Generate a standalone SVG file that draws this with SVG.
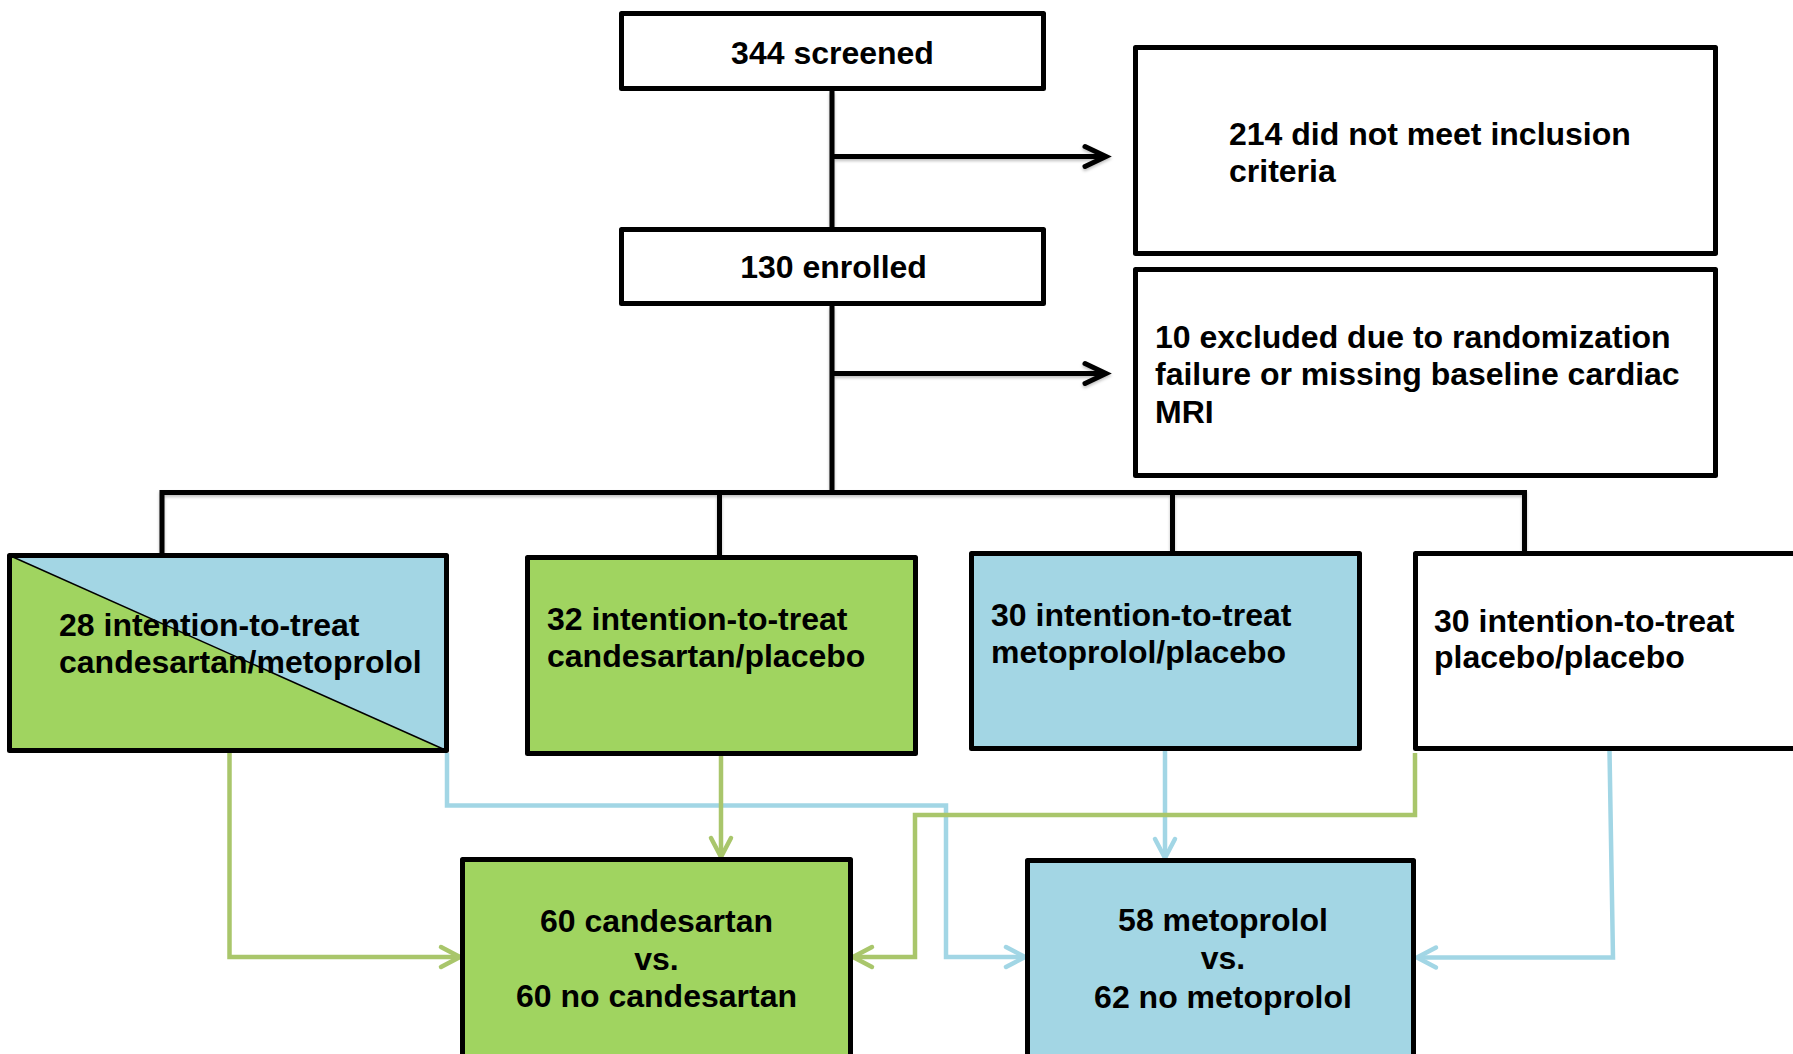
<svg xmlns="http://www.w3.org/2000/svg" width="1793" height="1054" viewBox="0 0 1793 1054">
<style>
.box{stroke:#000;stroke-width:5;stroke-linejoin:round}
.w{fill:#fff}
.g{fill:#A0D460}
.b{fill:#A3D6E4}
.t{font-family:"Liberation Sans",Arial,sans-serif;font-weight:bold;font-size:32px;fill:#000}
.c{text-anchor:middle}
.k{fill:none;stroke:#000;stroke-width:5;stroke-linejoin:miter}
.lg{fill:none;stroke:#A9C66B;stroke-width:4.5}
.lb{fill:none;stroke:#A2D6E5;stroke-width:4.5}
</style>
<defs>
<filter id="sh" x="-5%" y="-5%" width="110%" height="120%">
<feDropShadow dx="0" dy="2" stdDeviation="1.5" flood-color="#000" flood-opacity="0.25"/>
</filter>
<marker id="ak" markerUnits="userSpaceOnUse" viewBox="-26 -14 30 28" markerWidth="30" markerHeight="28" refX="0" refY="0" orient="auto" overflow="visible">
<path d="M-21,-10 L0,0 L-21,10" fill="none" stroke="#000" stroke-width="5" stroke-linecap="round" stroke-linejoin="miter"/>
</marker>
<marker id="ag" markerUnits="userSpaceOnUse" viewBox="-26 -14 30 28" markerWidth="30" markerHeight="28" refX="0" refY="0" orient="auto" overflow="visible">
<path d="M-19,-10 L0,0 L-19,10" fill="none" stroke="#A9C66B" stroke-width="4.5" stroke-linecap="round"/>
</marker>
<marker id="ab" markerUnits="userSpaceOnUse" viewBox="-26 -14 30 28" markerWidth="30" markerHeight="28" refX="0" refY="0" orient="auto" overflow="visible">
<path d="M-19,-10 L0,0 L-19,10" fill="none" stroke="#A2D6E5" stroke-width="4.5" stroke-linecap="round"/>
</marker>
</defs>
<rect width="1793" height="1054" fill="#fff"/>

<g id="connectors">
<g filter="url(#sh)">
<path class="k" d="M832 91 V227"/>
<path class="k" d="M832 156.5 H1106" marker-end="url(#ak)"/>
<path class="k" d="M832 306 V492.5"/>
<path class="k" d="M832 373.5 H1106" marker-end="url(#ak)"/>
<path class="k" d="M162 553 V492.5 H1524.5 V551"/>
<path class="k" d="M719.5 492.5 V555"/>
<path class="k" d="M1172.5 492.5 V551"/>
</g>
<path class="lg" d="M229.5 753 V957 H460" marker-end="url(#ag)"/>
<path class="lb" d="M447 753 V805.5 H946 V957 H1025" marker-end="url(#ab)"/>
<path class="lg" d="M721 756 V857" marker-end="url(#ag)"/>
<path class="lb" d="M1165 751 V858" marker-end="url(#ab)"/>
<path class="lg" d="M1415 753 V815 H915 V957 H853" marker-end="url(#ag)"/>
<path class="lb" d="M1609.5 751 L1613 957.5 H1417" marker-end="url(#ab)"/>
</g>

<g id="screened">
<rect class="box w" x="621.5" y="13.5" width="422" height="75"/>
<text class="t c" x="832.5" y="64">344 screened</text>
</g>
<g id="enrolled">
<rect class="box w" x="621.5" y="229.5" width="422" height="74"/>
<text class="t c" x="833.5" y="278">130 enrolled</text>
</g>
<g id="not-meet">
<rect class="box w" x="1135.5" y="47.5" width="580" height="206"/>
<text class="t" x="1229" y="145">214 did not meet inclusion</text>
<text class="t" x="1229" y="182">criteria</text>
</g>
<g id="excluded">
<rect class="box w" x="1135.5" y="269.5" width="580" height="206"/>
<text class="t" x="1155" y="348">10 excluded due to randomization</text>
<text class="t" x="1155" y="385">failure or missing baseline cardiac</text>
<text class="t" x="1155" y="423">MRI</text>
</g>
<g id="itt-cand-meto">
<polygon class="g" points="9.5,555.5 446.5,750.5 9.5,750.5"/>
<polygon class="b" points="9.5,555.5 446.5,555.5 446.5,750.5"/>
<line x1="9.5" y1="555.5" x2="446.5" y2="750.5" stroke="#000" stroke-width="1.5"/>
<rect class="box" fill="none" x="9.5" y="555.5" width="437" height="195"/>
<text class="t" x="59" y="636">28 intention-to-treat</text>
<text class="t" x="59" y="673">candesartan/metoprolol</text>
</g>
<g id="itt-cand-plac">
<rect class="box g" x="527.5" y="557.5" width="388" height="196"/>
<text class="t" x="547" y="630">32 intention-to-treat</text>
<text class="t" x="547" y="667">candesartan/placebo</text>
</g>
<g id="itt-meto-plac">
<rect class="box b" x="971.5" y="553.5" width="388" height="195"/>
<text class="t" x="991" y="626">30 intention-to-treat</text>
<text class="t" x="991" y="663">metoprolol/placebo</text>
</g>
<g id="itt-plac-plac">
<rect class="box w" x="1415.5" y="553.5" width="420" height="195"/>
<text class="t" x="1434" y="632">30 intention-to-treat</text>
<text class="t" x="1434" y="668">placebo/placebo</text>
</g>
<g id="cand-compare">
<rect class="box g" x="462.5" y="859.5" width="388" height="220"/>
<text class="t c" x="656.5" y="932">60 candesartan</text>
<text class="t c" x="656.5" y="970">vs.</text>
<text class="t c" x="656.5" y="1007">60 no candesartan</text>
</g>
<g id="meto-compare">
<rect class="box b" x="1027.5" y="860.5" width="386" height="220"/>
<text class="t c" x="1223" y="931">58 metoprolol</text>
<text class="t c" x="1223" y="969">vs.</text>
<text class="t c" x="1223" y="1008">62 no metoprolol</text>
</g>
</svg>
